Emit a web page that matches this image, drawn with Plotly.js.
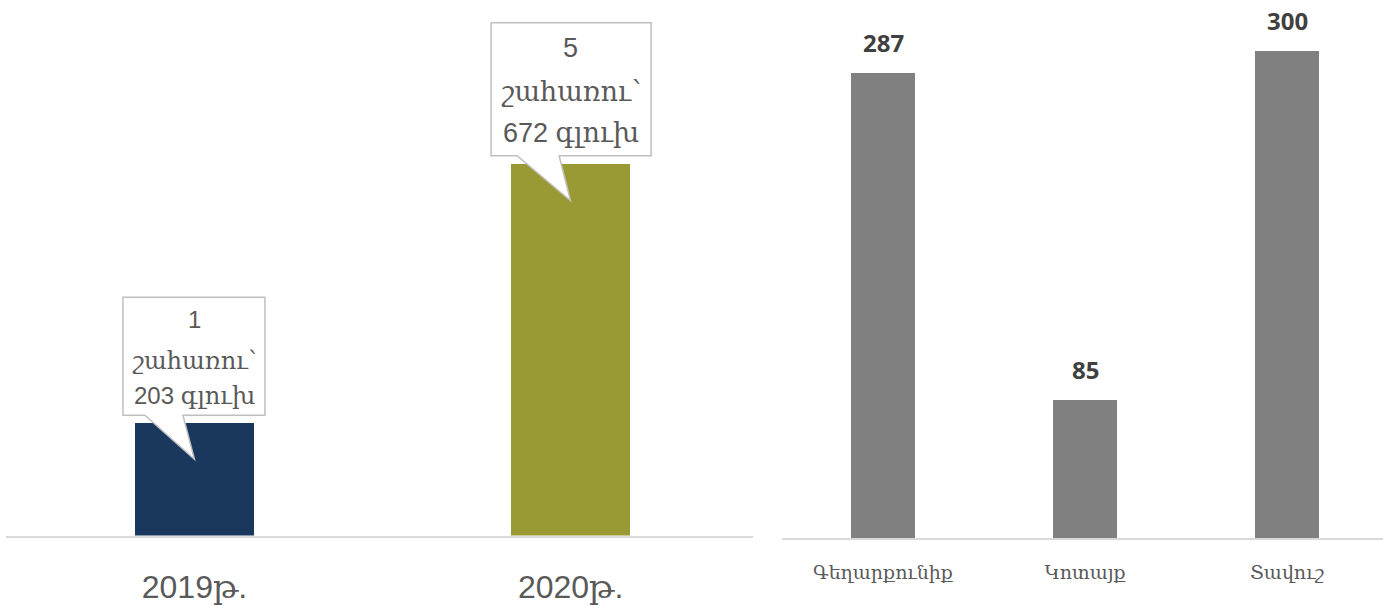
<!DOCTYPE html>
<html>
<head>
<meta charset="utf-8">
<script src="https://cdn.plot.ly/plotly-3.0.1.min.js"></script>
<style>html,body{margin:0;padding:0;background:#fff;}#chart{width:1383px;height:606px;}</style>
</head>
<body>
<div id="chart"></div>
<script>
// ---- data ----
const yearCategories = ['2019թ.', '2020թ.'];
const headCounts = [203, 672];
const beneficiaryCounts = [1, 5];
const beneficiaryWord = 'շահառու՝';
const headWord = 'գլուխ';
const regionCategories = ['Գեղարքունիք', 'Կոտայք', 'Տավուշ'];
const regionValues = [287, 85, 300];

// ---- styles ----
const yearColors = ['#1a375d', '#9a9a35'];
const regionColor = '#808080';
const textGrey = '#595959';
const mixFont = 'Liberation Sans, DejaVu Serif, sans-serif';
// callout geometry, pixels relative to bar top centre (up positive)
const callouts = [
  {L: -71.5, R: 70.5, T: 126, B: 8, wl: -49.5, wr: -11.5, tip: -36, lines: [104, 63, 28], size: 24},
  {L: -79.5, R: 80.5, T: 141, B: 8, wl: -53.5, wr: -11.5, tip: -37, lines: [116, 72, 31], size: 27}
];

const traces = [
  {type: 'bar', x: yearCategories, y: headCounts, xaxis: 'x', yaxis: 'y',
   marker: {color: yearColors}, width: 0.316, hoverinfo: 'none'},
  {type: 'bar', x: regionCategories, y: regionValues, xaxis: 'x2', yaxis: 'y2',
   marker: {color: regionColor}, width: 0.317, hoverinfo: 'none'}
];

const shapes = [];
const annotations = [];
yearCategories.forEach((c, i) => {
  const g = callouts[i];
  const p = `M${g.L},${g.T} L${g.R},${g.T} L${g.R},${g.B} L${g.wr},${g.B} L0,${g.tip} L${g.wl},${g.B} L${g.L},${g.B} Z`;
  shapes.push({type: 'path', xref: 'x', yref: 'y', xsizemode: 'pixel', ysizemode: 'pixel',
    xanchor: i, yanchor: headCounts[i], path: p, fillcolor: '#ffffff',
    line: {color: '#bfbfbf', width: 1.5}, layer: 'above'});
  const texts = [String(beneficiaryCounts[i]), beneficiaryWord, headCounts[i] + ' ' + headWord];
  texts.forEach((t, k) => {
    annotations.push({xref: 'x', yref: 'y', x: c, y: headCounts[i], text: t, showarrow: false,
      xanchor: 'center', yanchor: 'middle', yshift: g.lines[k],
      font: {family: mixFont, size: g.size, color: textGrey}});
  });
});
regionCategories.forEach((c, i) => {
  annotations.push({xref: 'x2', yref: 'y2', x: c, y: regionValues[i], text: String(regionValues[i]),
    showarrow: false, xanchor: 'center', yanchor: 'bottom', yshift: 12,
    font: {family: 'Open Sans, sans-serif', size: 24, color: '#404040', weight: 'bold'}});
});

const layout = {
  width: 1383, height: 606,
  margin: {l: 0, r: 0, t: 0, b: 0},
  paper_bgcolor: '#ffffff', plot_bgcolor: 'rgba(0,0,0,0)',
  showlegend: false, bargap: 0,
  xaxis: {domain: [6/1383, 753/1383], anchor: 'y', type: 'category', range: [-0.501, 1.485],
    showline: true, linecolor: '#d9d9d9', linewidth: 2, showgrid: false, zeroline: false,
    ticks: '', ticklabelstandoff: 22,
    tickfont: {family: mixFont, size: 32, color: textGrey}},
  yaxis: {domain: [70.5/606, 1], anchor: 'x', range: [0, 968], visible: false, fixedrange: true},
  xaxis2: {domain: [782/1383, 1], anchor: 'y2', type: 'category', range: [-0.5, 2.475],
    showline: true, linecolor: '#d9d9d9', linewidth: 2, showgrid: false, zeroline: false,
    ticks: '', ticklabelstandoff: 16,
    tickfont: {family: 'DejaVu Serif, serif', size: 19, color: textGrey}},
  yaxis2: {domain: [68/606, 1], anchor: 'x2', range: [0, 331.7], visible: false, fixedrange: true},
  shapes: shapes,
  annotations: annotations
};

Plotly.newPlot('chart', traces, layout, {displayModeBar: false, staticPlot: true});
</script>
</body>
</html>
